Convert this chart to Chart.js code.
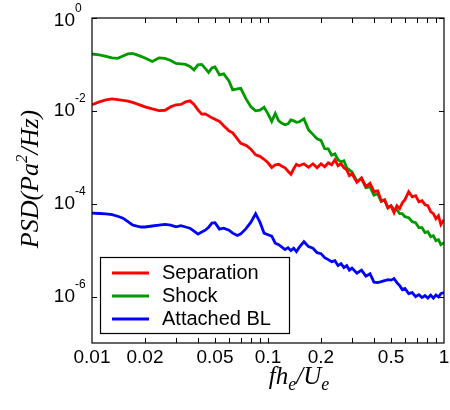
<!DOCTYPE html>
<html>
<head>
<meta charset="utf-8">
<title>PSD</title>
<script src="https://cdn.jsdelivr.net/npm/chart.js@4.4.1/dist/chart.umd.min.js"></script>
<style>
  html, body { margin: 0; padding: 0; background: #fff; }
  canvas { display: block; }
</style>
</head>
<body>
<canvas id="chart" width="450" height="410"></canvas>
<script>
// f h_e / U_e
const freq = [
  0.010, 0.011, 0.012, 0.013, 0.014, 0.015, 0.016, 0.017, 0.018, 0.019,
  0.020, 0.022, 0.024, 0.026, 0.028, 0.030, 0.032, 0.034, 0.036, 0.038,
  0.040, 0.042, 0.044, 0.046, 0.048, 0.050, 0.053, 0.056, 0.060, 0.063,
  0.067, 0.070, 0.075, 0.080, 0.085, 0.090, 0.095, 0.100, 0.105, 0.110,
  0.115, 0.120, 0.125, 0.130, 0.135, 0.140, 0.145, 0.150, 0.16, 0.17,
  0.18, 0.19, 0.20, 0.21, 0.22, 0.23, 0.24, 0.25, 0.26, 0.27,
  0.28, 0.29, 0.30, 0.32, 0.34, 0.36, 0.38, 0.40, 0.42, 0.44,
  0.46, 0.48, 0.50, 0.52, 0.54, 0.56, 0.58, 0.60, 0.63, 0.66,
  0.69, 0.72, 0.75, 0.78, 0.81, 0.84, 0.87, 0.90, 0.93, 0.96,
  1.00
]

const separation = [
  0.0135, 0.0156, 0.0172, 0.0181, 0.0174, 0.0168, 0.0162, 0.0152, 0.0141, 0.0131,
  0.0122, 0.0110, 0.0101, 0.0103, 0.0122, 0.0135, 0.0138, 0.0156, 0.0164, 0.0138,
  0.0105, 0.00849, 0.00862, 0.00781, 0.00707, 0.00657, 0.00594, 0.00476, 0.00372, 0.00336,
  0.00250, 0.00200, 0.00181, 0.00149, 0.00113, 0.00105, 0.000906, 0.000762, 0.000603, 0.000690,
  0.000707, 0.000640, 0.000594, 0.000500, 0.000431, 0.000566, 0.000707, 0.000657, 0.000725, 0.000609,
  0.000725, 0.000594, 0.000725, 0.000625, 0.000762, 0.000690, 0.000884, 0.000657, 0.000725, 0.000594,
  0.000537, 0.000402, 0.000440, 0.000291, 0.000361, 0.000233, 0.000275, 0.000182, 0.000189, 0.000116,
  0.000121, 8.24e-5, 9.02e-5, 6.43e-5, 9.02e-5, 7.84e-5, 1.05e-4, 1.22e-4, 1.81e-4, 1.41e-4,
  1.49e-4, 1.10e-4, 1.16e-4, 9.52e-5, 9.06e-5, 6.73e-5, 6.09e-5, 4.76e-5, 5.52e-5, 3.54e-5,
  4.53e-5
]

const shock = [
  0.168, 0.160, 0.149, 0.138, 0.135, 0.152, 0.168, 0.172, 0.160, 0.149,
  0.138, 0.116, 0.138, 0.135, 0.122, 0.105, 0.103, 0.100, 0.0906, 0.0762,
  0.0976, 0.100, 0.0820, 0.0673, 0.0841, 0.0884, 0.0594, 0.0625, 0.0442, 0.0283,
  0.0297, 0.0305, 0.0181, 0.0122, 0.0100, 0.0103, 0.0119, 0.00862, 0.00594, 0.0088,
  0.00609, 0.00538, 0.00500, 0.00525, 0.00640, 0.00609, 0.00566, 0.00580, 0.00673, 0.00390,
  0.00312, 0.00250, 0.00231, 0.00153, 0.00152, 0.00111, 0.00119, 0.000888, 0.000800, 0.000841,
  0.000594, 0.000538, 0.000486, 0.000306, 0.000343, 0.000222, 0.000231, 0.000153, 0.000164, 0.000111,
  0.000121, 8.04e-5, 9.06e-5, 7.43e-5, 7.43e-5, 6.09e-5, 6.09e-5, 5.25e-5, 5.00e-5, 4.10e-5,
  3.90e-5, 3.05e-5, 3.05e-5, 2.38e-5, 2.50e-5, 1.95e-5, 2.05e-5, 1.60e-5, 1.68e-5, 1.31e-5,
  1.45e-5
]

const attachedBL = [
  6.25e-5, 6.15e-5, 6.03e-5, 5.80e-5, 5.38e-5, 4.88e-5, 4.10e-5, 3.48e-5, 3.28e-5, 3.15e-5,
  3.15e-5, 3.31e-5, 3.45e-5, 3.57e-5, 3.45e-5, 3.17e-5, 3.36e-5, 3.15e-5, 2.97e-5, 2.56e-5,
  2.21e-5, 2.46e-5, 2.69e-5, 3.12e-5, 3.81e-5, 3.90e-5, 2.83e-5, 2.97e-5, 2.69e-5, 2.32e-5,
  2.07e-5, 2.24e-5, 2.90e-5, 4.00e-5, 6.09e-5, 4.00e-5, 2.32e-5, 2.15e-5, 2.00e-5, 1.41e-5,
  1.31e-5, 1.16e-5, 1.03e-5, 1.13e-5, 9.76e-6, 1.10e-5, 9.28e-6, 1.13e-5, 1.52e-5, 1.19e-5,
  1.10e-5, 8.84e-6, 8.41e-6, 6.90e-6, 6.25e-6, 5.66e-6, 5.94e-6, 4.64e-6, 5.13e-6, 4.20e-6,
  4.64e-6, 3.72e-6, 4.10e-6, 3.20e-6, 3.72e-6, 2.75e-6, 3.10e-6, 2.05e-6, 2.00e-6, 2.10e-6,
  2.21e-6, 2.32e-6, 2.26e-6, 2.44e-6, 2.00e-6, 1.72e-6, 1.41e-6, 1.49e-6, 1.16e-6, 1.22e-6,
  1.00e-6, 1.10e-6, 9.52e-7, 1.05e-6, 9.28e-7, 1.08e-6, 9.28e-7, 1.08e-6, 9.76e-7, 1.16e-6,
  1.22e-6
]

const seriesLabels = ['Separation', 'Shock', 'Attached BL']
const seriesColors = ['#ff0000', '#009a00', '#0000ff']

const xTickValues = [0.01, 0.02, 0.05, 0.1, 0.2, 0.5, 1]
const xTickLabels = ['0.01', '0.02', '0.05', '0.1', '0.2', '0.5', '1']
const xMinorTicks = [0.02, 0.03, 0.04, 0.05, 0.06, 0.07, 0.08, 0.09, 0.1, 0.2, 0.3, 0.4, 0.5, 0.6, 0.7, 0.8, 0.9]
const yTickExponents = [0, -2, -4, -6]

const toPoints = (ys) => freq.map((f, i) => ({ x: f, y: ys[i] }))

const sans = '"Liberation Sans", Arial, sans-serif'
const serif = '"Liberation Serif", "Times New Roman", serif'

// frame, inward ticks, labels, titles and the boxed legend
const axesPlugin = {
  id: 'axesPlugin',
  afterDraw(chart) {
    const { ctx, chartArea: a } = chart
    const xs = chart.scales.x
    const ys = chart.scales.y
    ctx.save()

    ctx.strokeStyle = '#000'
    ctx.lineWidth = 1.2
    ctx.strokeRect(a.left, a.top, a.right - a.left, a.bottom - a.top)

    ctx.beginPath()
    xMinorTicks.forEach(v => {
      const px = Math.round(xs.getPixelForValue(v)) + 0.5
      ctx.moveTo(px, a.bottom); ctx.lineTo(px, a.bottom - 5)
      ctx.moveTo(px, a.top); ctx.lineTo(px, a.top + 5)
    })
    yTickExponents.forEach(e => {
      const py = Math.round(ys.getPixelForValue(Math.pow(10, e))) + 0.5
      ctx.moveTo(a.left, py); ctx.lineTo(a.left + 5, py)
      ctx.moveTo(a.right, py); ctx.lineTo(a.right - 5, py)
    })
    ctx.lineWidth = 1
    ctx.stroke()

    ctx.fillStyle = '#000'
    ctx.font = '19px ' + sans
    ctx.textAlign = 'center'
    ctx.textBaseline = 'middle'
    xTickValues.forEach((v, i) => {
      ctx.fillText(xTickLabels[i], xs.getPixelForValue(v), 358)
    })

    yTickExponents.forEach(e => {
      const py = ys.getPixelForValue(Math.pow(10, e))
      const cy = Math.max(py, 21)
      ctx.font = '19px ' + sans
      ctx.textAlign = 'right'
      ctx.textBaseline = 'middle'
      ctx.fillText('10', 75, cy)
      ctx.font = '12px ' + sans
      ctx.textAlign = 'left'
      ctx.fillText(String(e), 75, cy - 12)
    })

    // x title: fh_e/U_e
    ctx.textAlign = 'left'
    ctx.textBaseline = 'alphabetic'
    const xParts = [['fh', 0, 25], ['e', 6, 18], ['/U', 0, 25], ['e', 6, 18]]
    let total = 0
    xParts.forEach(p => { ctx.font = 'italic ' + p[2] + 'px ' + serif; total += ctx.measureText(p[0]).width })
    let cx = 299 - total / 2
    xParts.forEach(p => {
      ctx.font = 'italic ' + p[2] + 'px ' + serif
      ctx.fillText(p[0], cx, 384 + p[1])
      cx += ctx.measureText(p[0]).width
    })

    // y title: PSD(Pa^2/Hz)
    ctx.save()
    ctx.translate(38, 179)
    ctx.rotate(-Math.PI / 2)
    const yParts = [['PSD(Pa', 0, 26], ['2', -11, 17], ['/Hz)', 0, 26]]
    total = 0
    yParts.forEach(p => { ctx.font = 'italic ' + p[2] + 'px ' + serif; total += ctx.measureText(p[0]).width })
    cx = -total / 2
    yParts.forEach(p => {
      ctx.font = 'italic ' + p[2] + 'px ' + serif
      ctx.fillText(p[0], cx, p[1])
      cx += ctx.measureText(p[0]).width
    })
    ctx.restore()

    // legend
    ctx.fillStyle = '#fff'
    ctx.fillRect(100, 257, 189, 76)
    ctx.strokeStyle = '#000'
    ctx.lineWidth = 1.2
    ctx.strokeRect(100.5, 257.5, 189, 76)
    const rows = [273, 296, 319]
    chart.data.datasets.forEach((ds, i) => {
      ctx.strokeStyle = ds.borderColor
      ctx.lineWidth = 2.8
      ctx.beginPath()
      ctx.moveTo(112, rows[i]); ctx.lineTo(149, rows[i])
      ctx.stroke()
      ctx.fillStyle = '#000'
      ctx.font = '20px ' + sans
      ctx.textAlign = 'left'
      ctx.textBaseline = 'middle'
      ctx.fillText(ds.label, 162, rows[i])
    })

    ctx.restore()
  }
}

const ctx = document.getElementById('chart').getContext('2d')
new Chart(ctx, {
  type: 'line',
  data: {
    datasets: [
      { label: seriesLabels[0], data: toPoints(separation), borderColor: seriesColors[0] },
      { label: seriesLabels[1], data: toPoints(shock), borderColor: seriesColors[1] },
      { label: seriesLabels[2], data: toPoints(attachedBL), borderColor: seriesColors[2] }
    ]
  },
  options: {
    responsive: false,
    animation: false,
    parsing: false,
    layout: { padding: { left: 92, right: 6, top: 18, bottom: 67 } },
    elements: {
      line: { borderWidth: 2.8, tension: 0 },
      point: { radius: 0 }
    },
    plugins: {
      legend: { display: false },
      tooltip: { enabled: false }
    },
    scales: {
      x: { type: 'logarithmic', min: 0.01, max: 1, display: false },
      y: { type: 'logarithmic', min: 1e-7, max: 1, display: false }
    }
  },
  plugins: [axesPlugin]
})
</script>
</body>
</html>
